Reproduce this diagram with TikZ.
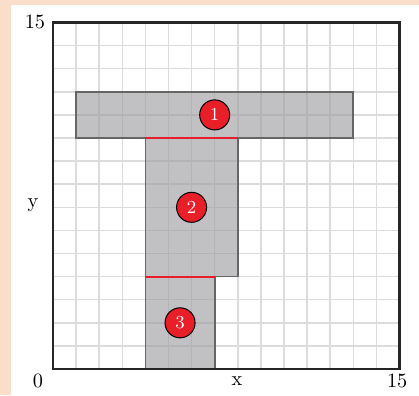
\documentclass[tikz,border=0pt]{standalone}
\usepackage{xcolor}
\usepackage{tikz}
\definecolor{peach}{RGB}{249,222,204}
\definecolor{gridgray}{RGB}{220,220,220}
\definecolor{partfill}{RGB}{160,160,164}
\definecolor{partred}{RGB}{232,30,40}

\begin{document}
\begin{tikzpicture}[x=0.4cm,y=0.4cm,
  part/.style={draw=black!60,line width=0.8pt,fill=partfill,fill opacity=0.65},
  cut/.style={partred,line width=0.9pt},
  num/.style={circle,draw=black,line width=0.5pt,fill=partred,text=white,
    minimum size=0.52cm,inner sep=0pt,font=\small},
  lab/.style={inner sep=0pt}]
\useasboundingbox (-2.294,-1.126) rectangle (15.844,15.974);
\fill[peach] (-2.294,-1.126) rectangle (15.844,15.974);
\fill[white] (-1.818,-1.126) rectangle (15.844,15.755);
\draw[gridgray,line width=0.7pt,step=0.4cm] (0,0) grid (15,15);
\draw[part] (1,10) rectangle (13,12);
\draw[part] (4,4) rectangle (8,10);
\draw[part] (4,0) rectangle (7,4);
\draw[cut] (4,10) -- (8,10);
\draw[cut] (4,4) -- (7,4);
\draw[black!85,line width=1pt] (0,0) rectangle (15,15);
\node[num] (p1) at (7,11) {1};
\node[num] (p2) at (6,7) {2};
\node[num] (p3) at (5.5,2) {3};
\node[lab] (ytop) at (-0.78,15.02) {15};
\node[lab] (ylab) at (-0.87,7.1) {y};
\node[lab] (orig) at (-0.65,-0.52) {0};
\node[lab] (xlab) at (7.97,-0.52) {x};
\node[lab] (xtop) at (14.9,-0.52) {15};
\end{tikzpicture}
\end{document}
